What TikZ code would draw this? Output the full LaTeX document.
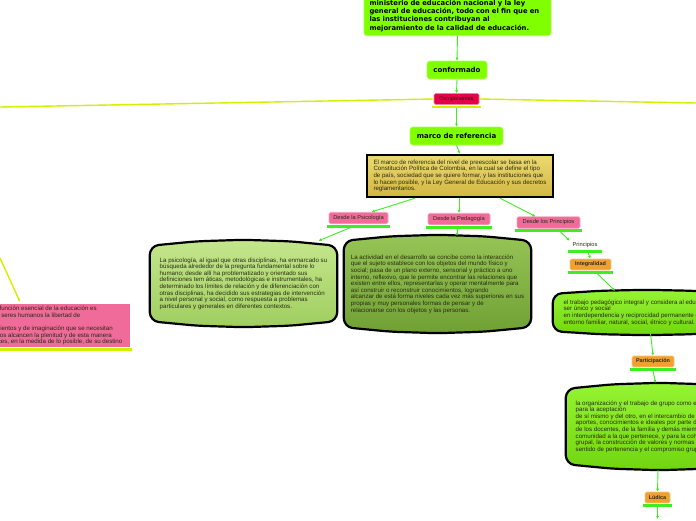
\documentclass[tikz,border=0pt]{standalone}
\usepackage{fontspec}
\setmainfont{Liberation Sans}
\newfontfamily\topicfont{DejaVu Sans}
\usetikzlibrary{arrows.meta,positioning,calc,backgrounds}
\definecolor{lime}{HTML}{80FF00}
\definecolor{limeedge}{HTML}{A8FF50}
\definecolor{crimson}{HTML}{E5004C}
\definecolor{rose}{HTML}{F06A9A}
\definecolor{amber}{HTML}{F0A030}
\definecolor{leaf}{HTML}{3CEE22}
\definecolor{chart}{HTML}{D2F000}
\definecolor{ink}{HTML}{2A2A14}
\tikzset{
  flow/.style={-{Latex[length=3pt,width=3pt]},draw=leaf,line width=0.9pt},
  rootline/.style={draw=chart,line width=1.4pt},
  topic/.style={rounded corners=3pt,fill=lime,draw=limeedge,line width=0.6pt,
                font=\topicfont\bfseries\fontsize{7}{8}\selectfont,inner sep=0pt,minimum height=18pt},
  tag/.style={rounded corners=1.5pt,inner sep=0pt,minimum height=11.5pt,
              font=\fontsize{5.7}{6}\selectfont,text=ink,line width=0.6pt},
  pinktag/.style={tag,fill=rose,draw=rose!60!white},
  orangetag/.style={tag,fill=amber,draw=amber!60!white,font=\bfseries\fontsize{5.4}{6}\selectfont},
  leafbar/.style={draw=leaf,line width=2.6pt},
  chartbar/.style={draw=chart,line width=2.6pt},
  note/.style={align=left,inner sep=0pt,minimum width=187pt,
               font=\fontsize{6.15}{6.6}\selectfont,text=ink},
  bubble/.style={draw=black,line width=2.2pt,rounded corners=9pt},
  palefill/.style={top color={rgb,255:red,196;green,230;blue,140},bottom color={rgb,255:red,160;green,206;blue,96}},
  olivefill/.style={top color={rgb,255:red,150;green,196;blue,86},bottom color={rgb,255:red,112;green,160;blue,52}},
  brightfill/.style={top color={rgb,255:red,150;green,244;blue,50},bottom color={rgb,255:red,112;green,214;blue,16}},
  goldfill/.style={top color={rgb,255:red,236;green,218;blue,112},bottom color={rgb,255:red,210;green,182;blue,66}}
}

\begin{document}
\begin{tikzpicture}[x=1pt,y=-1pt]
  \useasboundingbox (0,0) rectangle (696,520);
  \begin{pgfonlayer}{background}
    \fill[white] (0,0) rectangle (696,520);
  \end{pgfonlayer}

  % main chain
  \node[topic,anchor=south,align=left,text width=176pt,inner xsep=5.5pt,inner ysep=4pt,
        font=\topicfont\bfseries\fontsize{6.8}{8.3}\selectfont] (top) at (457.5,36)
    {ministerio de educación nacional y la ley\\general de educación, todo con el fin que en\\las instituciones contribuyan al\\mejoramiento de la calidad de educación.};
  \node[topic,minimum width=60pt] (conf) at (457,70) {conformado};
  \node[tag,fill=crimson,draw=crimson!50!white,minimum width=45pt,minimum height=11pt,
        font=\fontsize{5.5}{6}\selectfont,text=black!80!crimson] (comp) at (456.5,99) {Componentes};
  \node[topic,minimum width=93pt] (marco) at (456.5,136) {marco de referencia};
  \node[note,minimum width=186pt,minimum height=42pt] (ybox) at (460,176)
    {El marco de referencia del nivel de preescolar se basa en la\\Constitución Política de Colombia, en la cual se define el tipo\\de país, sociedad que se quiere formar, y las instituciones que\\lo hacen posible, y la Ley General de Educación y sus decretos\\reglamentarios.};

  % three branches
  \node[pinktag,minimum width=59pt] (psi) at (358.5,218) {Desde la Psicología};
  \node[pinktag,minimum width=62pt] (ped) at (459,219) {Desde la Pedagogía};
  \node[pinktag,minimum width=63pt] (pri) at (548.5,222.5) {Desde los Principios};

  \node[note,minimum height=75pt] (lbox) at (243.5,283.5)
    {La psicología, al igual que otras disciplinas, ha enmarcado su\\búsqueda alrededor de la pregunta fundamental sobre lo\\humano; desde allí ha problematizado y orientado sus\\definiciones tem áticas, metodológicas e instrumentales, ha\\determinado los límites de relación y de diferenciación con\\otras disciplinas, ha decidido sus estrategias de intervención\\a nivel personal y social, como respuesta a problemas\\particulares y generales en diferentes contextos.};
  \node[note,minimum height=86pt] (mbox) at (437.5,284)
    {La actividad en el desarrollo se concibe como la interacción\\que el sujeto establece con los objetos del mundo físico y\\social; pasa de un plano externo, sensorial y práctico a uno\\interno, reflexivo, que le permite encontrar las relaciones que\\existen entre ellos, representarlas y operar mentalmente para\\así construir o reconstruir conocimientos, logrando\\alcanzar de está forma niveles cada vez más superiores en sus\\propias y muy personales formas de pensar y de\\relacionarse con los objetos y las personas.};

  % principios
  \node[tag,minimum width=30pt,minimum height=8pt] (plabel) at (585,245) {Principios};
  \node[orangetag,minimum width=41pt,minimum height=11pt] (integ) at (590.5,264.5) {Integralidad};
  \node[note,minimum height=37pt] (rbox) at (646.5,312.5)
    {el trabajo pedagógico integral y considera al educando como\\ser único y social\\en interdependencia y reciprocidad permanente con su\\entorno familiar, natural, social, étnico y cultural.};
  \node[orangetag,minimum width=42pt,minimum height=11pt] (part) at (653,361.5) {Participación};
  \node[note,minimum height=75pt] (bbox) at (659.5,426.5)
    {la organización y el trabajo de grupo como espacio propicio\\para la aceptación\\de sí mismo y del otro, en el intercambio de experiencias,\\aportes, conocimientos e ideales por parte de los educandos,\\de los docentes, de la familia y demás miembros de la\\comunidad a la que pertenece, y para la cohesión, el trabajo\\grupal, la construcción de valores y normas sociales, el\\sentido de pertenencia y el compromiso grupal y personal.};
  \node[orangetag,minimum width=25pt,minimum height=11pt] (ludica) at (657.5,497.5) {Lúdica};

  % pink note on the left
  \node[note,fill=rose,minimum width=190pt,minimum height=43pt] (pink) at (35,325.5)
    {Más que nunca, la función esencial de la educación es\\conferir a todos los seres humanos la libertad de\\pensamiento,\\de juicio, de sentimientos y de imaginación que se necesitan\\para que sus talentos alcancen la plenitud y de esta manera\\seguir siendo artífices, en la medida de lo posible, de su destino};

  \coordinate (westend) at (0,107);
  \coordinate (eastend) at (696,103);
  \coordinate (pinkfrom) at (0,258);
  \coordinate (downend) at (657.5,519);

  % shapes behind the texts
  \begin{pgfonlayer}{background}
    \draw[black,line width=2.2pt,goldfill] (ybox.north west) rectangle (ybox.south east);
    \foreach \b/\f/\h in {lbox/palefill/6,mbox/olivefill/6,rbox/brightfill/4,bbox/brightfill/6}
      \draw[bubble,\f] (\b.north west)
        -- ($(\b.north west)!.25!(\b.north east)+(0,-0.75*\h)$)
        -- ($(\b.north west)!.5!(\b.north east)+(0,-\h)$)
        -- ($(\b.north west)!.75!(\b.north east)+(0,-0.75*\h)$)
        -- (\b.north east) -- (\b.south east)
        -- ($(\b.south west)!.75!(\b.south east)+(0,0.75*\h)$)
        -- ($(\b.south west)!.5!(\b.south east)+(0,\h)$)
        -- ($(\b.south west)!.25!(\b.south east)+(0,0.75*\h)$)
        -- (\b.south west) -- cycle;
  \end{pgfonlayer}

  % bars under the labels
  \foreach \n in {psi,ped,pri,plabel,integ,part,ludica}
    \draw[leafbar] ([xshift=-1.5pt,yshift=-2.2pt]\n.south west) -- ([xshift=1.5pt,yshift=-2.2pt]\n.south east);
  \foreach \n in {comp,pink}
    \draw[chartbar] ([xshift=-1.5pt,yshift=-2.2pt]\n.south west) -- ([xshift=1.5pt,yshift=-2.2pt]\n.south east);

  % connectors
  \draw[rootline] (comp.west) -- (westend);
  \draw[rootline] (comp.east) -- (eastend);
  \draw[rootline,-{Latex[length=3pt,width=3pt]}] (pinkfrom) -- ([xshift=-15pt,yshift=2pt]pink.north);
  \draw[flow] (top.south) -- (conf.north);
  \draw[flow] (conf.south) -- (comp.north);
  \draw[flow] ([yshift=-3.5pt]comp.south) -- (marco.north);
  \draw[flow] (marco.south) -- ([yshift=1pt]ybox.north);
  \draw[flow] ([xshift=-45pt,yshift=-1pt]ybox.south) -- ([xshift=13pt]psi.north);
  \draw[flow] ([xshift=-1pt,yshift=-1pt]ybox.south) -- (ped.north);
  \draw[flow] ([xshift=40pt,yshift=-1pt]ybox.south) -- ([xshift=-13pt]pri.north);
  \draw[flow] ([xshift=-8pt,yshift=-3.5pt]psi.south) -- ([xshift=75pt,yshift=5pt]lbox.north);
  \draw[flow] ([xshift=-2pt,yshift=-3.5pt]ped.south) -- ([xshift=19.5pt,yshift=5pt]mbox.north);
  \draw[flow] ([xshift=12pt,yshift=-3.5pt]pri.south) -- (plabel.north west);
  \draw[flow] ([xshift=3pt,yshift=-3.5pt]plabel.south) -- (integ.north);
  \draw[flow] ([xshift=7pt,yshift=-3.5pt]integ.south) -- ([xshift=-31.5pt,yshift=3pt]rbox.north);
  \draw[flow] ([xshift=4pt,yshift=-2pt]rbox.south) -- (part.north);
  \draw[flow] ([yshift=-3.5pt]part.south) -- ([xshift=-4pt,yshift=6pt]bbox.north);
  \draw[flow] ([xshift=-1.5pt,yshift=-6pt]bbox.south) -- (ludica.north);
  \draw[flow] ([yshift=-3.5pt]ludica.south) -- (downend);
\end{tikzpicture}
\end{document}
